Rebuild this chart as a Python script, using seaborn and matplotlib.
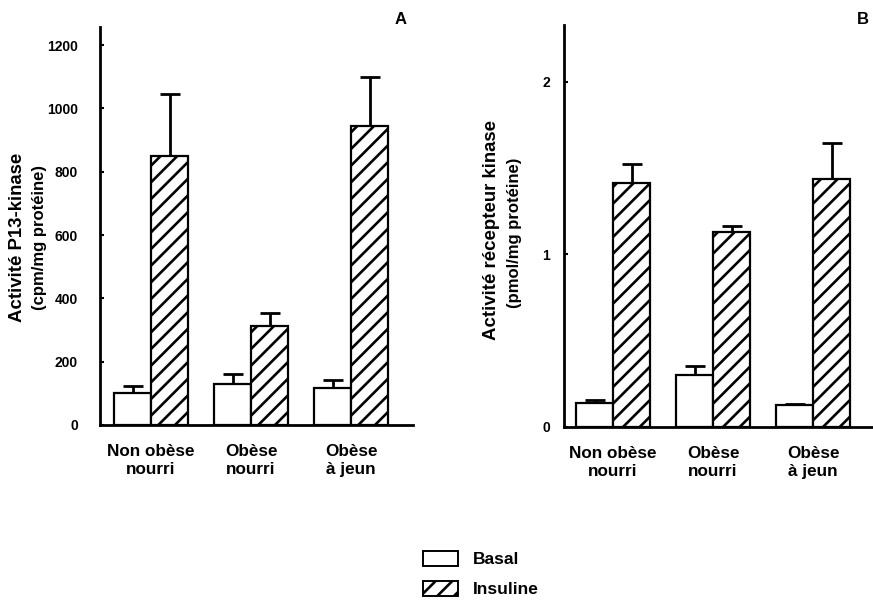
import matplotlib
matplotlib.use("Agg")
import matplotlib.pyplot as plt
import matplotlib.patches as mpatches
import seaborn as sns
import pandas as pd
import numpy as np

groups = ["Non obèse\nnourri", "Obèse\nnourri", "Obèse\nà jeun"]
conditions = ["Basal", "Insuline"]

# Panel A : PI3-kinase activity (cpm/mg protéine)
a_basal = [100, 131, 118]
a_basal_err = [23, 30, 24]
a_insul = [851, 313, 943]
a_insul_err = [194, 42, 155]

# Panel B : receptor kinase activity (pmol/mg protéine)
b_basal = [0.139, 0.304, 0.126]
b_basal_err = [0.02, 0.05, 0.006]
b_insul = [1.416, 1.133, 1.437]
b_insul_err = [0.108, 0.033, 0.211]

sns.set_style("ticks")
plt.rcParams["font.family"] = ["Liberation Sans", "DejaVu Sans"]
plt.rcParams["font.weight"] = "bold"
plt.rcParams["hatch.linewidth"] = 1.9
for k in ["text.color", "axes.labelcolor", "xtick.color", "ytick.color",
          "axes.edgecolor", "hatch.color"]:
    plt.rcParams[k] = "black"

fig = plt.figure(figsize=(8.73, 6.0), dpi=100)
axA = fig.add_axes([100 / 873, 1 - 425 / 600, 313 / 873, 398 / 600])
axB = fig.add_axes([564 / 873, 1 - 427 / 600, 309 / 873, 402 / 600])


def draw(ax, basal, berr, insul, ierr, ylim, yticks, xlim, ypad):
    df = pd.DataFrame({
        "groupe": groups * 2,
        "cond": [conditions[0]] * 3 + [conditions[1]] * 3,
        "val": list(basal) + list(insul),
    })
    sns.barplot(data=df, x="groupe", y="val", hue="cond", order=groups,
                hue_order=conditions, palette=["white", "white"],
                edgecolor="black", linewidth=1.6, width=0.74,
                errorbar=None, legend=False, ax=ax, zorder=2)
    for cont, errs, hatch in zip(ax.containers, [berr, ierr], ["", "//"]):
        for patch, e in zip(cont.patches, errs):
            patch.set_hatch(hatch)
            patch.set_edgecolor("black")
            xc = patch.get_x() + patch.get_width() / 2
            h = patch.get_height()
            ax.errorbar([xc], [h], yerr=[[0], [e]], fmt="none", ecolor="black",
                        elinewidth=2, capsize=7, capthick=2, zorder=1)
    ax.set_ylim(*ylim)
    ax.set_xlim(*xlim)
    ax.set_yticks(yticks)
    ax.set_yticklabels([str(t) for t in yticks], fontsize=10, fontweight="bold",
                       color="black")
    ax.set_xlabel("")
    ax.set_ylabel("")
    ax.tick_params(axis="x", length=0, labelsize=12.3, pad=14, labelcolor="black")
    ax.tick_params(axis="y", direction="in", length=3, width=1.5, pad=ypad,
                   color="black", labelcolor="black")
    for lab in ax.get_xticklabels():
        lab.set_fontweight("bold")
    sns.despine(ax=ax)
    ax.spines["left"].set_linewidth(2)
    ax.spines["bottom"].set_linewidth(2)
    ax.spines["left"].set_color("black")
    ax.spines["bottom"].set_color("black")


draw(axA, a_basal, a_basal_err, a_insul, a_insul_err,
     (0, 1257), [0, 200, 400, 600, 800, 1000, 1200], (-0.51, 2.62), 16)
draw(axB, b_basal, b_basal_err, b_insul, b_insul_err,
     (0, 2.33), [0, 1, 2], (-0.49, 2.6), 10)

fig.text(18 / 873, 1 - 237 / 600, "Activité P13-kinase", rotation=90,
         ha="center", va="center", fontsize=13.4, fontweight="bold")
fig.text(40 / 873, 1 - 237 / 600, "(cpm/mg protéine)", rotation=90,
         ha="center", va="center", fontsize=12, fontweight="bold")
fig.text(492 / 873, 1 - 230 / 600, "Activité récepteur kinase", rotation=90,
         ha="center", va="center", fontsize=13.4, fontweight="bold")
fig.text(515 / 873, 1 - 233 / 600, "(pmol/mg protéine)", rotation=90,
         ha="center", va="center", fontsize=12, fontweight="bold")

fig.text(401 / 873, 1 - 20 / 600, "A", ha="center", va="center",
         fontsize=12, fontweight="bold")
fig.text(863 / 873, 1 - 20 / 600, "B", ha="center", va="center",
         fontsize=12, fontweight="bold")

handles = [
    mpatches.Patch(facecolor="white", edgecolor="black", linewidth=1.4, label="Basal"),
    mpatches.Patch(facecolor="white", edgecolor="black", linewidth=1.4,
                   hatch="//", label="Insuline"),
]
fig.legend(handles=handles, loc="center", bbox_to_anchor=(481 / 873, 1 - 574 / 600),
           frameon=False, prop={"weight": "bold", "size": 12.5},
           handlelength=2.0, handleheight=0.95, labelspacing=0.8, handletextpad=0.9)

fig.savefig("out.png", dpi=100)
